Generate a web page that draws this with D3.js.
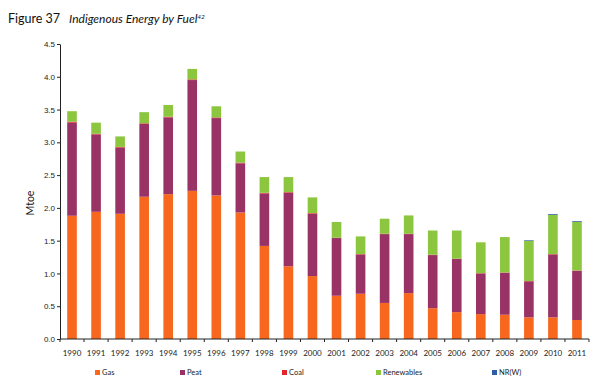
<!DOCTYPE html>
<html><head><meta charset="utf-8">
<script src="https://cdn.jsdelivr.net/npm/d3@7"></script>
<style>body{margin:0;background:#fff;}svg{display:block;font-family:Lato,"Open Sans",sans-serif;}</style>
</head><body>
<svg id="c" width="614" height="390"></svg>
<script>
const years = ["1990","1991","1992","1993","1994","1995","1996","1997","1998","1999","2000","2001","2002","2003","2004","2005","2006","2007","2008","2009","2010","2011"];
const gas = [1.88,1.94,1.91,2.17,2.21,2.26,2.19,1.93,1.42,1.11,0.96,0.66,0.69,0.55,0.70,0.47,0.41,0.38,0.37,0.33,0.33,0.29];
const peat = [1.42,1.18,1.01,1.11,1.17,1.69,1.18,0.75,0.80,1.12,0.95,0.88,0.60,1.05,0.90,0.81,0.81,0.62,0.64,0.55,0.96,0.75];
const coal = [0.015,0.01,0.01,0.01,0.01,0.01,0.01,0.01,0.01,0.01,0.01,0.005,0.005,0.005,0.005,0.005,0.005,0.005,0.005,0.005,0.005,0.005];
const renewables = [0.16,0.17,0.16,0.17,0.18,0.16,0.17,0.17,0.24,0.23,0.24,0.24,0.27,0.23,0.28,0.37,0.43,0.47,0.54,0.61,0.60,0.74];
const nrw = [0,0,0,0,0,0,0,0,0,0,0,0,0,0,0,0,0,0,0,0.01,0.012,0.012];
const yTicks = [0,0.5,1.0,1.5,2.0,2.5,3.0,3.5,4.0,4.5];
const seriesNames = ["Gas","Peat","Coal","Renewables","NR(W)"];
const colors = ["#f7671e","#993366","#e3262c","#8cc63f","#2f5ea8"];

const svg = d3.select("#c");
const L = 60, R = 589, T = 44, B = 339;
const x = d3.scaleBand().domain(years).range([L,R]).paddingInner(0.6).paddingOuter(0.3);
const y = d3.scaleLinear().domain([0,4.5]).range([B,T]);

const rows = years.map((yr,i)=>({year:yr,Gas:gas[i],Peat:peat[i],Coal:coal[i],Renewables:renewables[i],"NR(W)":nrw[i]}));
const stacked = d3.stack().keys(seriesNames)(rows);

svg.append("g").selectAll("g").data(stacked).join("g")
  .attr("fill",(d,i)=>colors[i])
  .selectAll("rect").data(d=>d).join("rect")
  .attr("x",d=>x(d.data.year))
  .attr("width",x.bandwidth())
  .attr("y",d=>y(d[1]))
  .attr("height",d=>Math.max(0,y(d[0])-y(d[1])));

// y axis
const ya = svg.append("g").attr("transform",`translate(${L},0)`)
  .call(d3.axisLeft(y).tickValues(yTicks).tickFormat(d3.format(".1f")).tickSize(3).tickSizeOuter(0));
ya.select(".domain").attr("stroke","#222");
ya.selectAll(".tick line").attr("stroke","#222");
ya.selectAll("text").attr("font-size",8).attr("fill","#222").attr("x",-5);

// x axis
const xb = d3.scaleLinear().domain([0,years.length]).range([L,R]);
const xa = svg.append("g").attr("transform",`translate(0,${B})`);
xa.append("line").attr("x1",L).attr("x2",R).attr("stroke","#222");
xa.selectAll("line.t").data(d3.range(years.length+1)).join("line").attr("class","t")
  .attr("x1",d=>xb(d)).attr("x2",d=>xb(d)).attr("y1",0).attr("y2",3).attr("stroke","#222");
xa.selectAll("text").data(years).join("text")
  .attr("x",d=>x(d)+x.bandwidth()/2).attr("y",17)
  .attr("text-anchor","middle").attr("font-size",8).attr("fill","#222").text(d=>d);

// y label
svg.append("text").attr("transform","translate(34,203) rotate(-90)")
  .attr("text-anchor","middle").attr("font-size",10.5).attr("fill","#111").text("Mtoe");

// title
const t = svg.append("text").attr("x",8).attr("y",23).attr("font-size",12.5).attr("fill","#111");
t.append("tspan").text("Figure 37");
t.append("tspan").attr("dx",9).attr("font-style","italic").attr("font-size",12).text("Indigenous Energy by Fuel");
t.append("tspan").attr("font-style","italic").attr("font-size",6.5).attr("dy",-4).text("42");

// legend
const legX = [95,180,282,376,492];
const lg = svg.append("g").selectAll("g").data(seriesNames).join("g")
  .attr("transform",(d,i)=>`translate(${legX[i]},373)`);
lg.append("rect").attr("x",0).attr("y",-3).attr("width",5).attr("height",5).attr("fill",(d,i)=>colors[i]);
lg.append("text").attr("x",7).attr("y",2).attr("font-size",7.5).attr("fill","#222").text(d=>d);
</script>
</body></html>
